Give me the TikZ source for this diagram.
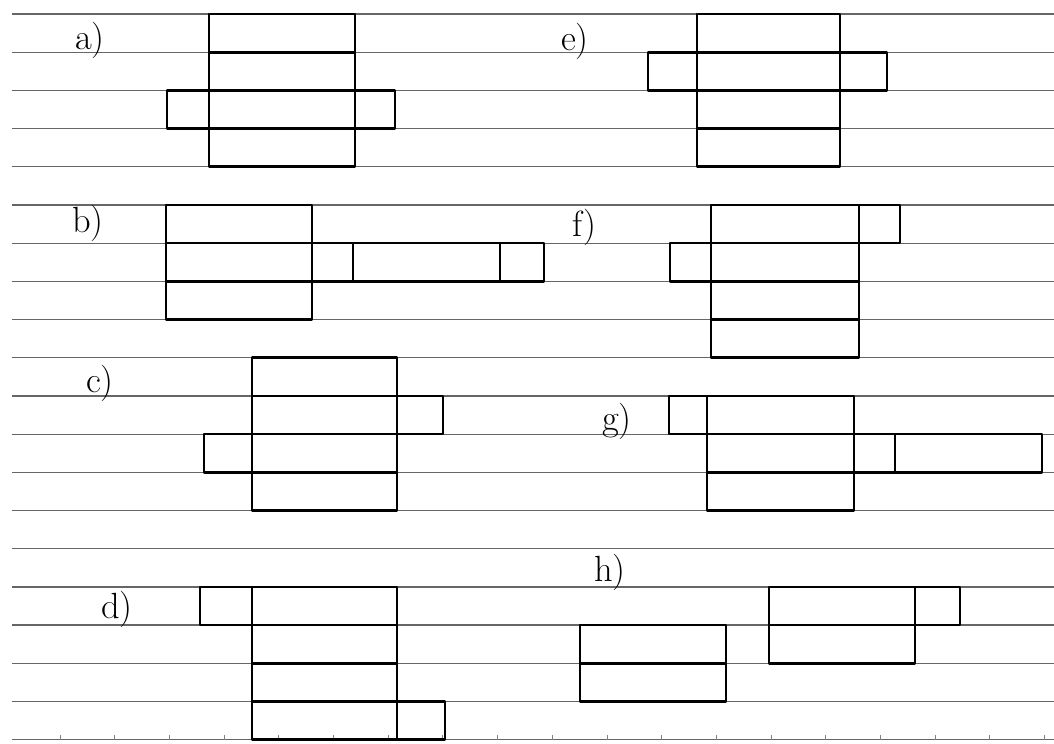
\documentclass[tikz,border=0pt]{standalone}
\usepackage{tikz}
\usetikzlibrary{positioning}

\begin{document}
\begin{tikzpicture}[
    x=0.02cm, y=-0.764cm,
    rule/.style={draw=black!60, line width=0.7pt},
    tick/.style={draw=black!50, line width=0.5pt},
    net/.style={draw=black, line width=1.5pt, line join=round},
    lbl/.style={font=\huge, inner sep=0pt}
]
    \useasboundingbox (0,-0.3665) rectangle (1054,19.11);

    % ruled paper
    \foreach \k in {0,...,19}
        \draw [rule] (12,\k) -- (1054,\k);
    \foreach \i in {0,...,18}
        \draw [tick] ({60+54.7*\i},19) -- ++(0,-0.12);

    % a)
    \node [lbl] (la) at (90,0.68) {a)};
    \draw [net] (209,0) rectangle (355,4);
    \draw [net] (209,1) -- (355,1);
    \draw [net] (167,2) rectangle (395,3);

    % e)
    \node [lbl] (le) at (575,0.73) {e)};
    \draw [net] (697,0) rectangle (840,4);
    \draw [net] (648,1) rectangle (887,2);
    \draw [net] (697,3) -- (840,3);

    % b)
    \node [lbl] (lb) at (88,5.47) {b)};
    \draw [net] (166,5) rectangle (312,8);
    \draw [net] (166,6) -- (312,6) (166,7) -- (312,7);
    \draw [net] (312,6) rectangle (544,7);
    \draw [net] (353,6) -- (353,7) (500,6) -- (500,7);

    % f)
    \node [lbl] (lf) at (584,5.58) {f)};
    \draw [net] (711,5) rectangle (859,9);
    \foreach \k in {6,7,8}
        \draw [net] (711,\k) -- (859,\k);
    \draw [net] (670,6) rectangle (711,7);
    \draw [net] (859,5) rectangle (900,6);

    % c)
    \node [lbl] (lc) at (100,9.66) {c)};
    \draw [net] (252,9) rectangle (397,13);
    \foreach \k in {10,11,12}
        \draw [net] (252,\k) -- (397,\k);
    \draw [net] (397,10) rectangle (443,11);
    \draw [net] (204,11) rectangle (252,12);

    % g)
    \node [lbl] (lg) at (617,10.68) {g)};
    \draw [net] (707,10) rectangle (854,13);
    \foreach \k in {11,12}
        \draw [net] (707,\k) -- (854,\k);
    \draw [net] (669,10) rectangle (707,11);
    \draw [net] (854,11) rectangle (1042,12);
    \draw [net] (895,11) -- (895,12);

    % d)
    \node [lbl] (ld) at (117,15.6) {d)};
    \draw [net] (252,15) rectangle (397,19);
    \foreach \k in {16,17,18}
        \draw [net] (252,\k) -- (397,\k);
    \draw [net] (200,15) rectangle (252,16);
    \draw [net] (397,18) rectangle (445,19);

    % h)
    \node [lbl] (lh) at (610,14.63) {h)};
    \draw [net] (580,16) rectangle (726,18);
    \draw [net] (580,17) -- (726,17);
    \draw [net] (769,15) rectangle (915,17);
    \draw [net] (769,16) -- (915,16);
    \draw [net] (915,15) rectangle (960,16);
\end{tikzpicture}
\end{document}
